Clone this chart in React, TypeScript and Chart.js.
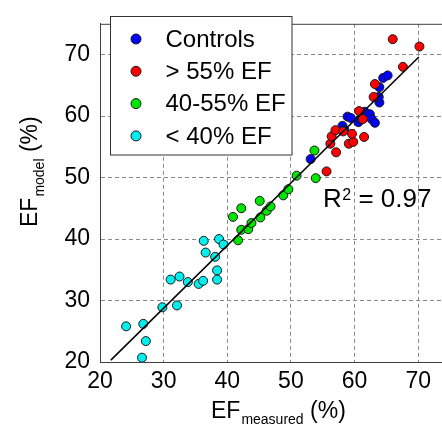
import React, { useEffect, useRef } from 'react';
import { Chart, registerables } from 'chart.js';

Chart.register(...registerables);

// ---- data ----
const seriesNames = ['Controls', '> 55% EF', '40-55% EF', '< 40% EF'];

const controlsX = [53.1, 58.1, 58.4, 58.9, 59.4, 60.6, 60.9, 61.6, 62.4, 62.7, 63.2, 63.9, 63.8, 63.9, 64.5, 65.2];
const controlsY = [53.0, 58.4, 57.8, 59.9, 59.7, 59.0, 59.5, 60.7, 60.3, 59.5, 58.9, 62.2, 63.1, 64.7, 66.2, 66.6];

const above55X = [55.6, 57.1, 56.2, 56.4, 57.0, 58.2, 59.1, 59.8, 59.6, 61.5, 60.7, 61.3, 63.0, 63.2, 66.0, 67.6, 70.2];
const above55Y = [51.0, 54.1, 55.5, 56.7, 57.7, 57.5, 55.5, 55.8, 57.1, 56.6, 60.8, 59.5, 63.1, 65.2, 72.5, 68.0, 71.3];

const mid40to55X = [40.9, 42.2, 41.7, 42.2, 43.3, 43.8, 45.1, 45.2, 46.2, 46.8, 48.8, 49.6, 50.9, 53.7, 53.9];
const mid40to55Y = [43.6, 45.0, 39.8, 41.5, 41.6, 42.6, 46.2, 43.5, 44.6, 45.3, 47.1, 48.1, 50.3, 54.4, 49.9];

const below40X = [24.1, 26.8, 27.2, 26.6, 29.8, 32.1, 31.1, 32.5, 33.8, 35.5, 36.2, 36.3, 36.6, 38.1, 38.4, 38.4, 38.7, 39.4];
const below40Y = [25.8, 26.2, 23.4, 20.7, 28.9, 29.2, 33.4, 33.9, 33.0, 32.7, 33.2, 39.7, 37.8, 37.1, 34.9, 33.4, 40.0, 39.1];

const fitX = [21.7, 70.1];
const fitY = [20.3, 69.6];

const xTicks = [20, 30, 40, 50, 60, 70];
const yTicks = [20, 30, 40, 50, 60, 70];
const rSquaredText = '0.97';

const seriesColors = ['#0000ff', '#ff0000', '#00e600', '#00eeee'];

const FONT = '"Liberation Sans", Arial, sans-serif';
const f = (s: number) => `${s}px ${FONT}`;

const zip = (xs: number[], ys: number[]) => xs.map((x, i) => ({ x, y: ys[i] }));

const overlayPlugin = {
  id: 'overlay',
  afterDraw(chart: any) {
    const { ctx, chartArea } = chart;
    ctx.save();
    // top border
    ctx.strokeStyle = '#404040';
    ctx.lineWidth = 1;
    ctx.beginPath();
    ctx.moveTo(chartArea.left, chartArea.top + 0.5);
    ctx.lineTo(chart.width, chartArea.top + 0.5);
    ctx.stroke();

    // legend box
    ctx.fillStyle = '#ffffff';
    ctx.fillRect(110.5, 16.5, 181.5, 138.5);
    ctx.strokeStyle = '#333333';
    ctx.strokeRect(110.5, 16.5, 181.5, 138.5);
    seriesNames.forEach((name, i) => {
      const y = 39 + 32.3 * i;
      ctx.beginPath();
      ctx.arc(136, y, 5, 0, Math.PI * 2);
      ctx.fillStyle = seriesColors[i];
      ctx.fill();
      ctx.strokeStyle = '#1a1a1a';
      ctx.lineWidth = 1;
      ctx.stroke();
      ctx.fillStyle = '#000';
      ctx.font = f(24);
      ctx.textAlign = 'left';
      ctx.textBaseline = 'middle';
      ctx.fillText(name, 165.5, y + 1);
    });

    // R^2 annotation
    ctx.fillStyle = '#000';
    ctx.textBaseline = 'alphabetic';
    ctx.textAlign = 'left';
    ctx.font = f(26);
    let x = 323;
    ctx.fillText('R', x, 207);
    x += ctx.measureText('R').width + 0.5;
    ctx.font = f(16);
    ctx.fillText('2', x, 199.5);
    x += ctx.measureText('2').width;
    ctx.font = f(26);
    ctx.fillText(' = ' + rSquaredText, x, 207);

    // x axis title
    x = 211;
    ctx.font = f(23);
    ctx.fillText('EF', x, 418);
    x += ctx.measureText('EF').width + 1;
    ctx.font = f(14);
    ctx.fillText('measured', x, 424);
    x += ctx.measureText('measured').width;
    ctx.font = f(23);
    ctx.fillText(' (%)', x, 418);

    // y axis title (rotated)
    ctx.save();
    ctx.translate(37, 227);
    ctx.rotate(-Math.PI / 2);
    let t = 0;
    ctx.font = f(23);
    ctx.fillText('EF', t, 0);
    t += ctx.measureText('EF').width + 1;
    ctx.font = f(14);
    ctx.fillText('model', t, 7);
    t += ctx.measureText('model').width;
    ctx.font = f(23);
    ctx.fillText(' (%)', t, 0);
    ctx.restore();

    ctx.restore();
  },
};

export default function App() {
  const ref = useRef<HTMLCanvasElement | null>(null);

  useEffect(() => {
    if (!ref.current) return;
    const pointStyle = (i: number, order: number) => ({
      type: 'scatter' as const,
      label: seriesNames[i],
      backgroundColor: seriesColors[i],
      borderColor: '#1a1a1a',
      borderWidth: 1,
      pointRadius: 4.5,
      order,
    });
    const chart = new Chart(ref.current, {
      type: 'scatter',
      data: {
        datasets: [
          {
            type: 'line',
            label: 'fit',
            data: zip(fitX, fitY),
            borderColor: '#000',
            borderWidth: 1.5,
            pointRadius: 0,
            fill: false,
            order: 0,
          } as any,
          { ...pointStyle(1, 1), data: zip(above55X, above55Y) },
          { ...pointStyle(0, 2), data: zip(controlsX, controlsY) },
          { ...pointStyle(2, 3), data: zip(mid40to55X, mid40to55Y) },
          { ...pointStyle(3, 4), data: zip(below40X, below40Y) },
        ],
      },
      options: {
        animation: false,
        responsive: false,
        devicePixelRatio: 1,
        layout: { padding: { top: 13, right: 20, left: 0, bottom: 0 } },
        plugins: { legend: { display: false }, tooltip: { enabled: false } },
        scales: {
          x: {
            type: 'linear',
            position: 'bottom',
            min: 20,
            max: 75,
            afterBuildTicks: (s: any) => {
              s.ticks = xTicks.map((v) => ({ value: v }));
            },
            afterFit: (s: any) => {
              s.height = 63;
            },
            ticks: { font: { size: 23, family: FONT }, color: '#000', padding: 6, maxRotation: 0 },
            grid: { color: '#8a8a8a', lineWidth: 1, drawTicks: false },
            border: { display: true, color: '#404040', width: 1, dash: [4, 3] },
          },
          y: {
            type: 'linear',
            min: 20,
            max: 75,
            afterBuildTicks: (s: any) => {
              s.ticks = yTicks.map((v) => ({ value: v }));
            },
            afterFit: (s: any) => {
              s.width = 100;
            },
            ticks: { font: { size: 23, family: FONT }, color: '#000', padding: 10 },
            grid: { color: '#8a8a8a', lineWidth: 1, drawTicks: false },
            border: { display: true, color: '#404040', width: 1, dash: [4, 3] },
          },
        },
      },
      plugins: [overlayPlugin],
    });
    return () => chart.destroy();
  }, []);

  return (
    <div
      style={{
        position: 'fixed',
        left: 0,
        top: 0,
        width: 442,
        height: 425,
        overflow: 'hidden',
        background: '#fff',
      }}
    >
      <canvas ref={ref} width={470} height={425} style={{ width: 470, height: 425, display: 'block' }} />
    </div>
  );
}
